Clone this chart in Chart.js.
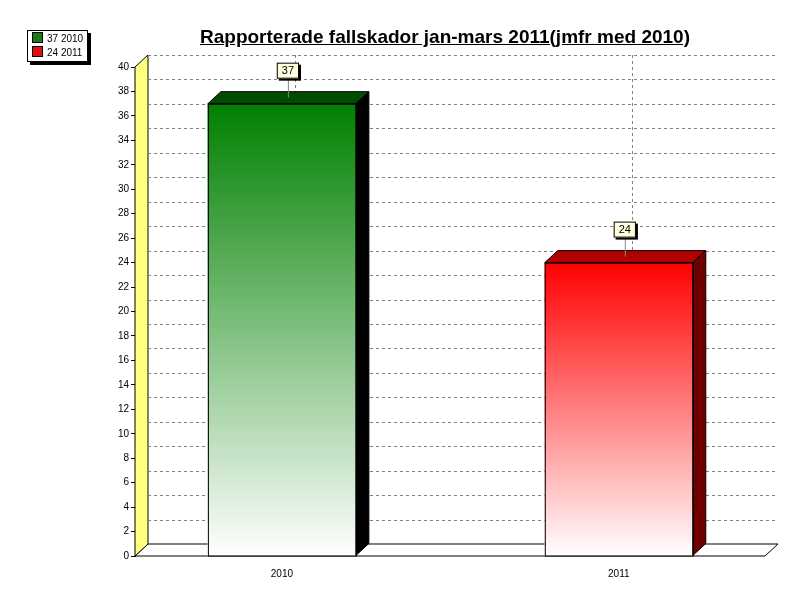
<!DOCTYPE html>
<html><head><meta charset="utf-8">
<script src="https://cdn.jsdelivr.net/npm/chart.js@4"></script>
<style>
body{margin:0;background:#fff;font-family:"Liberation Sans",Arial,sans-serif}
#wrap{position:relative;width:800px;height:600px}
#title{position:absolute;left:0;width:890px;top:26px;text-align:center;font-weight:bold;font-size:19px;text-decoration:underline}
#legend{position:absolute;left:27px;top:30px;border:1px solid #000;background:#fff;box-shadow:3px 3px 0 #000;padding:1px 4px;font-size:10px;line-height:14px}
#legend span{display:inline-block;width:9px;height:9px;border:1px solid #000;margin-right:4px;vertical-align:-1px}
</style></head><body>
<div id="wrap">
<canvas id="c" width="800" height="600"></canvas>
<div id="title">Rapporterade fallskador jan-mars 2011(jmfr med 2010)</div>
<div id="legend"></div>
</div>
<script>
const categories=['2010','2011'];
const values=[37,24];
const frontTop=['#008000','#ff0000'];
const topFace=['#004d00','#b00000'];
const sideFace=['#000000','#700000'];
const legendColors=['#1a7a1a','#e01010'];
const yTicks=[0,2,4,6,8,10,12,14,16,18,20,22,24,26,28,30,32,34,36,38,40];
const DX=13,DY=12;
document.getElementById('legend').innerHTML=categories.map((c,i)=>`<div><span style="background:${legendColors[i]}"></span>${values[i]} ${c}</div>`).join('');

const deco={id:'deco',
beforeDatasetsDraw(ch){const ctx=ch.ctx,a=ch.chartArea,y=ch.scales.y,x=ch.scales.x;
 ctx.save();
 ctx.fillStyle='#fff';ctx.strokeStyle='#000';ctx.lineWidth=1;
 ctx.beginPath();ctx.moveTo(a.left,a.bottom);ctx.lineTo(a.left+DX,a.bottom-DY);ctx.lineTo(a.right+DX,a.bottom-DY);ctx.lineTo(a.right,a.bottom);ctx.closePath();ctx.fill();ctx.stroke();
 ctx.fillStyle='#ffff80';
 ctx.beginPath();ctx.moveTo(a.left,a.bottom);ctx.lineTo(a.left,a.top);ctx.lineTo(a.left+DX,a.top-DY);ctx.lineTo(a.left+DX,a.bottom-DY);ctx.closePath();ctx.fill();ctx.stroke();
 ctx.setLineDash([3,3]);ctx.strokeStyle='#808080';
 yTicks.forEach(t=>{if(t===0)return;const py=Math.round(y.getPixelForValue(t)-DY)+0.5;ctx.beginPath();ctx.moveTo(a.left+DX,py);ctx.lineTo(a.right+DX,py);ctx.stroke();});
 categories.forEach((c,i)=>{const px=Math.round(x.getPixelForValue(i)+DX)+0.5;ctx.beginPath();ctx.moveTo(px,a.top-DY);ctx.lineTo(px,a.bottom-DY);ctx.stroke();});
 ctx.restore();},
afterDatasetsDraw(ch){const ctx=ch.ctx;const meta=ch.getDatasetMeta(0);
 ctx.save();
 meta.data.forEach((b,i)=>{const l=b.x-b.width/2,r=b.x+b.width/2,t=b.y,bo=b.base;
  ctx.strokeStyle='#000';ctx.lineWidth=1;
  ctx.fillStyle=topFace[i];ctx.beginPath();ctx.moveTo(l,t);ctx.lineTo(l+DX,t-DY);ctx.lineTo(r+DX,t-DY);ctx.lineTo(r,t);ctx.closePath();ctx.fill();ctx.stroke();
  ctx.fillStyle=sideFace[i];ctx.beginPath();ctx.moveTo(r,t);ctx.lineTo(r+DX,t-DY);ctx.lineTo(r+DX,bo-DY);ctx.lineTo(r,bo);ctx.closePath();ctx.fill();ctx.stroke();
  ctx.strokeRect(l+0.5,t+0.5,b.width,bo-t);
  const lx=b.x+6,ly=t-33;ctx.font='11px "Liberation Sans",Arial';const txt=String(values[i]);const w=ctx.measureText(txt).width+10;
  ctx.strokeStyle='#888';ctx.beginPath();ctx.moveTo(lx+0.5,ly+8);ctx.lineTo(lx+0.5,t-6);ctx.stroke();
  ctx.fillStyle='#000';ctx.fillRect(lx-w/2+2,ly-6,w,16);
  ctx.fillStyle='#ffffe0';ctx.fillRect(lx-w/2,ly-8,w,16);ctx.strokeStyle='#000';ctx.strokeRect(lx-w/2+0.5,ly-7.5,w-1,15);
  ctx.fillStyle='#000';ctx.textAlign='center';ctx.textBaseline='middle';ctx.fillText(txt,lx,ly);
 });
 ctx.restore();}};

new Chart(document.getElementById('c'),{type:'bar',
data:{datasets:[{data:values.map((v,i)=>({x:i,y:v})),barThickness:148,borderWidth:0,
 backgroundColor(ctx){const a=ctx.chart.chartArea;if(!a)return '#888';const i=ctx.dataIndex;
  const top=ctx.chart.scales.y.getPixelForValue(values[i]);const g=ctx.chart.ctx.createLinearGradient(0,top,0,a.bottom);g.addColorStop(0,frontTop[i]);g.addColorStop(1,'#ffffff');return g;}}]},
options:{responsive:false,animation:false,layout:{padding:{top:67,right:35,left:0,bottom:0}},
 plugins:{legend:{display:false},tooltip:{enabled:false}},
 scales:{
  x:{type:'linear',offset:false,min:-0.436,max:1.434,afterBuildTicks(s){s.ticks=categories.map((c,i)=>({value:i}));},
   afterFit(s){s.height=44;},grid:{display:false},border:{display:false},
   ticks:{callback:(v)=>categories[v]??'',color:'#000',font:{size:10,family:'"Liberation Sans",Arial'},padding:4,maxRotation:0}},
  y:{min:0,max:40,afterBuildTicks(s){s.ticks=yTicks.map(v=>({value:v}));},afterFit(s){s.width=135;},
   grid:{drawOnChartArea:false,tickLength:4,color:'#000'},border:{display:true,color:'#000'},
   ticks:{color:'#000',font:{size:10,family:'"Liberation Sans",Arial'},padding:2}}}},
plugins:[deco]});
</script>
</body></html>
